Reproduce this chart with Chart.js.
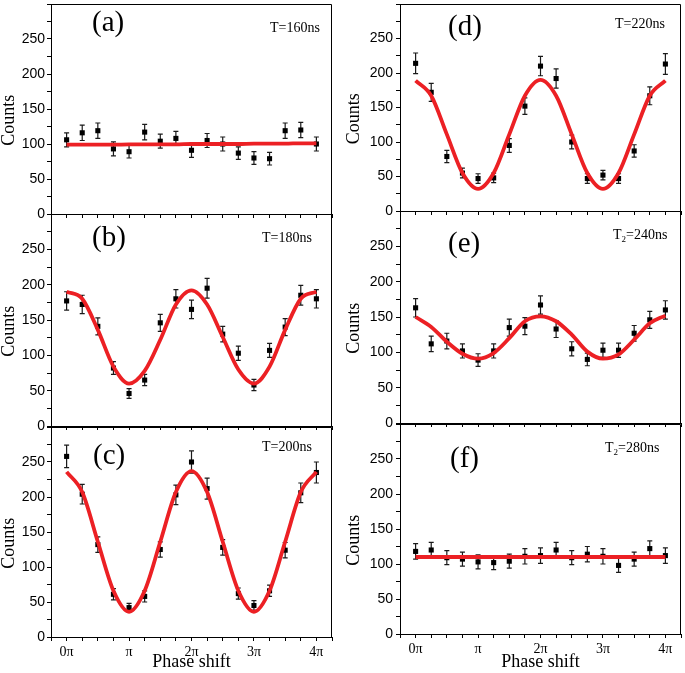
<!DOCTYPE html>
<html><head><meta charset="utf-8">
<script src="https://cdn.jsdelivr.net/npm/chart.js@4.4.1/dist/chart.umd.min.js"></script>
<style>
html,body{margin:0;padding:0;background:#fff;}
#wrap{position:relative;width:685px;height:673px;overflow:hidden;background:#fff;}
canvas{position:absolute;}
</style></head><body><div id="wrap"></div>
<script>
// ---------- data ----------
const phase = [0, 0.25, 0.5, 0.75, 1, 1.25, 1.5, 1.75, 2, 2.25, 2.5, 2.75, 3, 3.25, 3.5, 3.75, 4]; // in units of pi
const xTickValues = [0, 1, 2, 3, 4];
const xTickLabels = ['0π', 'π', '2π', '3π', '4π'];
const yTickLabels = [0, 50, 100, 150, 200, 250];

const countsA = [106,116,119,93,89,117,104,108,91,105,100,87,80,79,119,120,100];
const errA    = [10,11,11,10,9,11,10,10,10,10,10,9,9,9,11,11,10];
const fitA    = [99,99,99,99,99.5,99.5,99.5,99.5,100,100,100,100,100.5,100.5,100.5,101,101];

const countsB = [177,172,141,82,46,65,146,180,165,195,130,103,58,107,140,185,180];
const errB    = [13,13,12,9,7,8,12,13,13,14,11,10,8,10,12,14,13];
const fitB    = [190,180,136,84,60,78,122,172,192,172,126,80,60,84,136,180,190];

const countsC = [258,204,132,61,42,58,125,203,250,212,128,62,45,66,124,206,235];
const errC    = [16,14,11,8,6,8,11,14,16,15,11,8,7,8,11,14,15];
const fitC    = [236,207,136,66,36,66,136,207,237,207,136,66,36,66,136,207,236];

const countsD = [214,172,79,55,47,48,95,152,210,192,100,47,52,47,87,167,213];
const errD    = [15,13,9,7,7,7,10,12,14,14,10,7,7,7,9,13,15];
const fitD    = [189,167,111,55,32,55,111,167,190,167,111,55,32,55,111,167,189];

const countsE = [163,112,116,102,89,102,135,137,167,133,105,90,103,103,127,146,160];
const errE    = [13,11,11,10,9,10,12,12,13,12,10,9,10,10,11,12,13];
const fitE    = [150,136,115,98,91,99,120,144,151,144,125,101,91,97,118,141,152];

const countsF = [118,120,109,107,103,102,104,111,112,120,109,114,111,98,107,122,112];
const errF    = [11,11,10,10,10,10,10,11,11,11,10,11,11,10,10,11,11];
const fitF    = [110,110,110,110,110,110,110,110,110,110,110,110,110,110,110,110,110];

// ---------- layout / styling ----------
const SERIF = '"Liberation Serif", "Times New Roman", Times, serif';
const SANS = '"Liberation Sans", Arial, Helvetica, sans-serif';
const RED = 'rgb(236,32,36)';

const panels = [
  {counts:countsA, err:errA, fit:fitA, letter:'(a)', tMain:'T', tSub:'', tRest:'=160ns',
   left:0, width:336, plotTop:1, plotBottom:214, padT:1, xH:10, axisW:51, tickPad:2, bottom:false,
   letterX:92, letterY:31, tX:270, tY:32},
  {counts:countsB, err:errB, fit:fitB, letter:'(b)', tMain:'T', tSub:'', tRest:'=180ns',
   left:0, width:336, plotTop:214, plotBottom:426, padT:8, xH:10, axisW:51, tickPad:2, bottom:false,
   letterX:92, letterY:246, tX:262, tY:242},
  {counts:countsC, err:errC, fit:fitC, letter:'(c)', tMain:'T', tSub:'', tRest:'=200ns',
   left:0, width:336, plotTop:427, plotBottom:637, padT:8, xH:36, axisW:51, tickPad:2, bottom:true,
   letterX:93, letterY:464, tX:262, tY:451},
  {counts:countsD, err:errD, fit:fitD, letter:'(d)', tMain:'T', tSub:'', tRest:'=220ns',
   left:345, width:340, plotTop:1, plotBottom:211, padT:1, xH:10, axisW:55, tickPad:3, bottom:false,
   letterX:448, letterY:35, tX:615, tY:28},
  {counts:countsE, err:errE, fit:fitE, letter:'(e)', tMain:'T', tSub:'2', tRest:'=240ns',
   left:345, width:340, plotTop:211, plotBottom:423, padT:8, xH:10, axisW:55, tickPad:3, bottom:false,
   letterX:448, letterY:252, tX:613, tY:239},
  {counts:countsF, err:errF, fit:fitF, letter:'(f)', tMain:'T', tSub:'2', tRest:'=280ns',
   left:345, width:340, plotTop:424, plotBottom:634, padT:8, xH:39, axisW:55, tickPad:3, bottom:true,
   letterX:450, letterY:467, tX:605, tY:452}
];

const decorPlugin = {
  id: 'decor',
  beforeDatasetsDraw(chart, args, o) {
    const {ctx, scales: {x, y}} = chart;
    ctx.save();
    ctx.strokeStyle = '#1a1a1a';
    ctx.lineWidth = 1.2;
    o.counts.forEach((v, i) => {
      const px = x.getPixelForValue(o.phase[i]);
      const lo = y.getPixelForValue(v - o.err[i]);
      const hi = y.getPixelForValue(v + o.err[i]);
      ctx.beginPath();
      ctx.moveTo(px, lo); ctx.lineTo(px, hi);
      ctx.moveTo(px - 2.5, lo); ctx.lineTo(px + 2.5, lo);
      ctx.moveTo(px - 2.5, hi); ctx.lineTo(px + 2.5, hi);
      ctx.stroke();
    });
    ctx.restore();
  },
  afterDraw(chart, args, o) {
    const {ctx, chartArea: a} = chart;
    ctx.save();
    ctx.strokeStyle = '#000';
    ctx.lineWidth = 1;
    const t = Math.round(a.top) + 0.5, r = Math.round(a.right) - 0.5;
    ctx.beginPath();
    ctx.moveTo(a.left, t); ctx.lineTo(r, t); ctx.lineTo(r, a.bottom);
    ctx.stroke();
    ctx.fillStyle = '#000';
    ctx.textAlign = 'left';
    ctx.textBaseline = 'alphabetic';
    ctx.font = '29px ' + SERIF;
    ctx.fillText(o.letter, o.letterX - o.offX, o.letterY - o.offY);
    ctx.font = '14px ' + SERIF;
    let tx = o.tX - o.offX;
    const ty = o.tY - o.offY;
    if (!o.tSub) {
      ctx.fillText(o.tMain + o.tRest, tx, ty);
    } else {
      ctx.fillText(o.tMain, tx, ty);
      tx += ctx.measureText(o.tMain).width;
      ctx.font = '9px ' + SERIF;
      ctx.fillText(o.tSub, tx, ty + 3);
      tx += ctx.measureText(o.tSub).width;
      ctx.font = '14px ' + SERIF;
      ctx.fillText(o.tRest, tx, ty);
    }
    ctx.restore();
  }
};

const wrap = document.getElementById('wrap');
panels.forEach(p => {
  const top = p.plotTop - p.padT;
  const height = p.padT + (p.plotBottom - p.plotTop) + p.xH;
  const cv = document.createElement('canvas');
  cv.width = p.width; cv.height = height;
  cv.style.left = p.left + 'px'; cv.style.top = top + 'px';
  cv.style.width = p.width + 'px'; cv.style.height = height + 'px';
  wrap.appendChild(cv);

  new Chart(cv.getContext('2d'), {
    type: 'line',
    data: {
      datasets: [
        {
          label: 'fit',
          data: phase.map((xv, i) => ({x: xv, y: p.fit[i]})),
          borderColor: RED, borderWidth: 3.8, pointRadius: 0,
          cubicInterpolationMode: 'monotone', fill: false
        },
        {
          label: 'counts',
          data: phase.map((xv, i) => ({x: xv, y: p.counts[i]})),
          showLine: false, pointStyle: 'rect', pointRadius: 3.6,
          backgroundColor: '#000', borderColor: '#000', borderWidth: 0
        }
      ]
    },
    options: {
      responsive: false, animation: false, devicePixelRatio: 1,
      layout: {padding: {top: p.padT, right: 1, left: 0, bottom: 0}},
      plugins: {
        legend: {display: false}, tooltip: {enabled: false},
        decor: {counts: p.counts, err: p.err, phase: phase, letter: p.letter,
          tMain: p.tMain, tSub: p.tSub, tRest: p.tRest,
          letterX: p.letterX, letterY: p.letterY, tX: p.tX, tY: p.tY, offX: p.left, offY: top}
      },
      scales: {
        x: {
          type: 'linear', min: -0.25, max: 4.25,
          afterFit(s) { s.height = p.xH; s.paddingLeft = 0; s.paddingRight = 0; },
          ticks: {
            stepSize: 0.25, autoSkip: false, maxRotation: 0, padding: 3, color: '#000',
            font: {family: SERIF, size: 14},
            callback: v => {
              if (!p.bottom) return '';
              const k = xTickValues.findIndex(t => Math.abs(t - v) < 1e-6);
              return k >= 0 ? xTickLabels[k] : '';
            }
          },
          grid: {drawOnChartArea: false, drawTicks: true, tickLength: 4, color: '#000', tickColor: '#000'},
          border: {display: true, color: '#000', width: 1},
          title: {display: p.bottom, text: 'Phase shift', color: '#000',
            font: {family: SERIF, size: 18}, padding: {top: 0, bottom: 0}}
        },
        y: {
          min: 0, max: 300,
          afterFit(s) { s.width = p.axisW; s.paddingTop = 0; s.paddingBottom = 0; },
          ticks: {
            stepSize: 25, autoSkip: false, padding: p.tickPad, color: '#000',
            font: {family: SANS, size: 14},
            callback: v => yTickLabels.includes(v) ? String(v) : ''
          },
          grid: {drawOnChartArea: false, drawTicks: true, tickLength: 4, color: '#000', tickColor: '#000'},
          border: {display: true, color: '#000', width: 1},
          title: {display: true, text: 'Counts\u00a0\u00a0\u00a0\u00a0\u00a0', color: '#000',
            font: {family: SERIF, size: 18, lineHeight: 1}, padding: {top: 0, bottom: 0}}
        }
      }
    },
    plugins: [decorPlugin]
  });
});
</script>
</body></html>
